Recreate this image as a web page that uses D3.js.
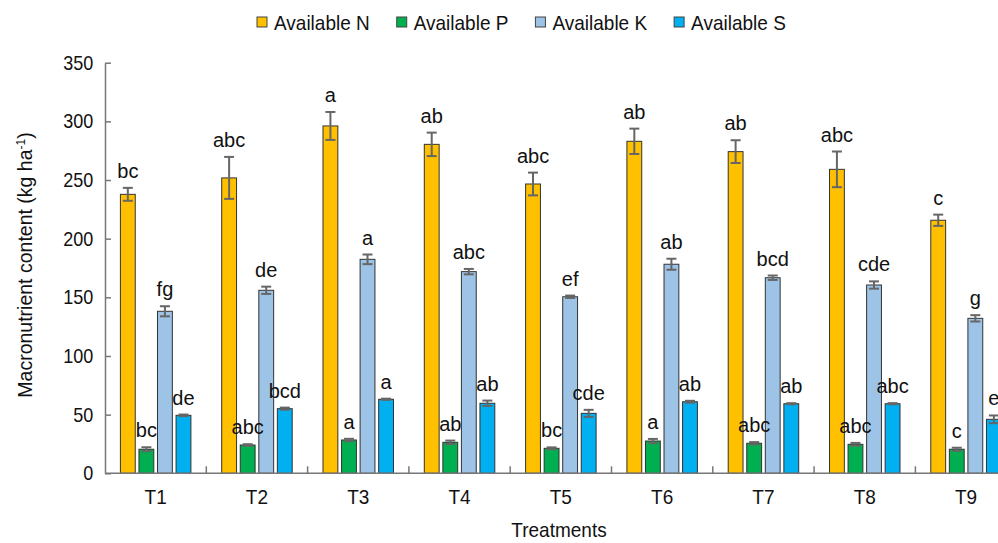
<!DOCTYPE html>
<html>
<head>
<meta charset="utf-8">
<script src="https://cdn.jsdelivr.net/npm/d3@7"></script>
<style>
body { margin: 0; background: #fff; }
text { font-family: "Liberation Sans", Arial, sans-serif; fill: #111; }
</style>
</head>
<body>
<svg id="chart" width="998" height="543"></svg>
<script>
// values
var treatments = ["T1", "T2", "T3", "T4", "T5", "T6", "T7", "T8", "T9"];
var seriesNames = ["Available N", "Available P", "Available K", "Available S"];
var seriesColors = ["#FFC000", "#00B050", "#9DC3E6", "#00B0F0"];

var availN = [237.8, 251.8, 296.1, 280.4, 246.6, 283.0, 274.2, 259.1, 215.7];
var availNErr = [5.5, 17.9, 11.9, 10.0, 9.7, 10.8, 9.7, 15.2, 4.8];
var availNLetters = ["bc", "abc", "a", "ab", "abc", "ab", "ab", "abc", "c"];

var availP = [20.5, 24.1, 28.4, 26.4, 21.3, 27.5, 25.6, 24.7, 20.5];
var availPErr = [1.7, 0.7, 1.0, 1.5, 0.8, 1.8, 1.0, 1.2, 1.3];
var availPLetters = ["bc", "abc", "a", "ab", "bc", "a", "abc", "abc", "c"];

var availK = [138.1, 156.0, 182.4, 171.9, 150.5, 178.2, 166.7, 160.5, 132.1];
var availKErr = [4.3, 3.1, 4.1, 2.3, 1.0, 4.7, 1.9, 3.1, 2.7];
var availKLetters = ["fg", "de", "a", "abc", "ef", "ab", "bcd", "cde", "g"];

var availS = [49.4, 55.1, 63.1, 59.7, 51.1, 61.0, 59.3, 59.3, 46.0];
var availSErr = [0.7, 0.9, 0.5, 2.3, 3.0, 0.8, 0.5, 0.5, 3.3];
var availSLetters = ["de", "bcd", "a", "ab", "cde", "ab", "ab", "abc", "e"];

var yTicks = [0, 50, 100, 150, 200, 250, 300, 350];

var values = [availN, availP, availK, availS];
var errors = [availNErr, availPErr, availKErr, availSErr];
var letters = [availNLetters, availPLetters, availKLetters, availSLetters];

var svg = d3.select("#chart");

var x = d3.scaleBand().domain(treatments).range([105, 105 + 9 * 101.3]).padding(0);
var xs = d3.scaleBand().domain(seriesNames).range([15.4, 85.9]).paddingInner(0.2);
var y = d3.scaleLinear().domain([0, 350]).range([473.3, 62.7]);

// flat list of bars
var rows = [];
treatments.forEach(function(t, i) {
  seriesNames.forEach(function(s, j) {
    rows.push({t: t, s: s, j: j, v: values[j][i], e: errors[j][i], l: letters[j][i]});
  });
});

function label(g, px, py, str, anchor, sx) {
  return g.append("text")
    .attr("transform", "translate(" + px + "," + py + ") scale(" + sx + ",1)")
    .attr("text-anchor", anchor)
    .style("font-size", "20px")
    .text(str);
}

// bars
svg.append("g").selectAll("rect").data(rows).join("rect")
  .attr("x", function(d) { return x(d.t) + xs(d.s); })
  .attr("y", function(d) { return y(d.v); })
  .attr("width", xs.bandwidth())
  .attr("height", function(d) { return y(0) - y(d.v); })
  .attr("fill", function(d) { return seriesColors[d.j]; })
  .attr("stroke", "#333")
  .attr("stroke-width", 1);

// error bars
var eb = svg.append("g").attr("stroke", "#666").attr("stroke-width", 2);
rows.forEach(function(d) {
  var cx = x(d.t) + xs(d.s) + xs.bandwidth() / 2;
  eb.append("line").attr("x1", cx).attr("x2", cx).attr("y1", y(d.v - d.e)).attr("y2", y(d.v + d.e));
  eb.append("line").attr("x1", cx - 5).attr("x2", cx + 5).attr("y1", y(d.v - d.e)).attr("y2", y(d.v - d.e));
  eb.append("line").attr("x1", cx - 5).attr("x2", cx + 5).attr("y1", y(d.v + d.e)).attr("y2", y(d.v + d.e));
});

// significance letters
var lg = svg.append("g");
rows.forEach(function(d) {
  var cx = x(d.t) + xs(d.s) + xs.bandwidth() / 2;
  label(lg, cx, y(d.v + d.e) - 10, d.l, "middle", 1);
});

// y axis
var yAxis = svg.append("g").attr("transform", "translate(105,0)")
  .call(d3.axisLeft(y).tickValues(yTicks).tickSizeInner(-6).tickSizeOuter(0).tickPadding(13));
yAxis.select(".domain").attr("stroke", "#777").attr("stroke-width", 1.5);
yAxis.selectAll(".tick line").attr("stroke", "#777").attr("stroke-width", 1.5);
yAxis.selectAll(".tick text").style("font-size", "20px").attr("fill", "#111")
  .attr("font-family", "Liberation Sans, Arial, sans-serif")
  .attr("transform", "scale(0.9,1)");

// x axis
svg.append("line").attr("x1", 105).attr("x2", 998).attr("y1", y(0)).attr("y2", y(0))
  .attr("stroke", "#777").attr("stroke-width", 1.5);
svg.append("g").selectAll("line").data(treatments.slice(1)).join("line")
  .attr("x1", function(d) { return x(d); }).attr("x2", function(d) { return x(d); })
  .attr("y1", y(0)).attr("y2", y(0) - 7)
  .attr("stroke", "#777").attr("stroke-width", 1.5);
var xl = svg.append("g");
treatments.forEach(function(t) {
  label(xl, x(t) + x.bandwidth() / 2, 504, t, "middle", 0.95);
});

// axis titles
label(svg, 559, 537, "Treatments", "middle", 0.95);
var yt = svg.append("text")
  .attr("transform", "translate(32,265) rotate(-90)")
  .attr("text-anchor", "middle")
  .style("font-size", "19.5px");
yt.append("tspan").text("Macronutrient content (kg ha");
yt.append("tspan").attr("baseline-shift", "super").style("font-size", "12px").text("-1");
yt.append("tspan").text(")");

// legend
var leg = svg.append("g");
var lx = 257;
seriesNames.forEach(function(s, j) {
  leg.append("rect").attr("x", lx).attr("y", 17).attr("width", 10).attr("height", 10)
    .attr("fill", seriesColors[j]).attr("stroke", "#444").attr("stroke-width", 1);
  var t = label(leg, lx + 17, 29.5, s, "start", 0.95);
  lx += 17 + t.node().getComputedTextLength() * 0.95 + 27;
});
</script>
</body>
</html>
